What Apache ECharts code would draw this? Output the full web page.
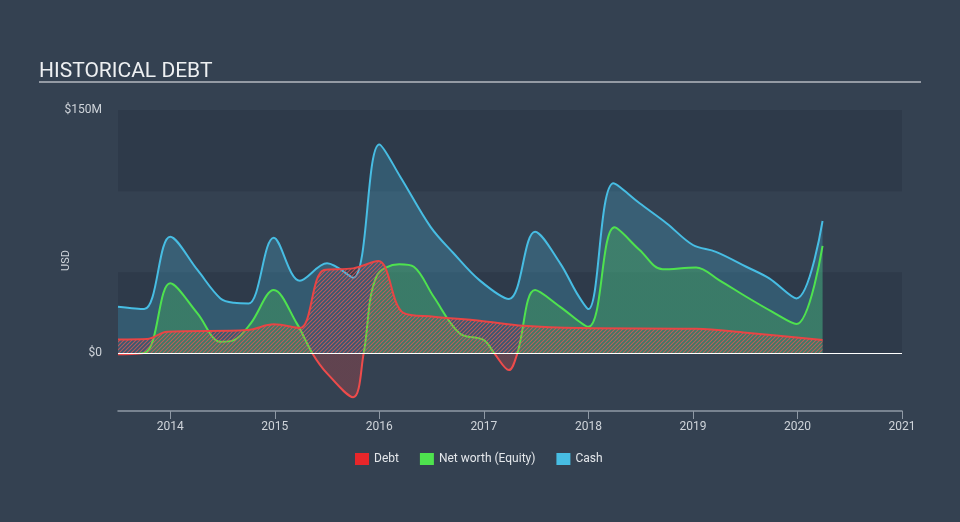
<!DOCTYPE html>
<html><head><meta charset="utf-8">
<script src="https://cdn.jsdelivr.net/npm/echarts@6/dist/echarts.min.js"></script>
<style>html,body{margin:0;padding:0;background:#344151;}#c{width:960px;height:522px;}</style>
</head><body><div id="c"></div>
<script>
const cashData = [[2013.5,28.7],[2013.75,27.3],[2014.0,71.9],[2014.26,51.4],[2014.48,33.9],[2014.61,31.2],[2014.75,30.8],[2014.99,71.3],[2015.24,44.8],[2015.5,55.5],[2015.75,46.6],[2016.0,128.8],[2016.2,108.9],[2016.49,78],[2016.71,61.7],[2016.96,45],[2017.24,33.5],[2017.49,75],[2017.73,55.5],[2017.89,37],[2018.0,27.3],[2018.24,104.8],[2018.49,92.5],[2018.75,80.1],[2019.0,66.8],[2019.22,62.6],[2019.51,53.4],[2019.73,46.2],[2019.99,33.9],[2020.24,81.6]];
const equityData = [[2013.5,-0.5],[2013.76,0.5],[2014.0,43.2],[2014.26,24.7],[2014.48,7.2],[2014.61,8.2],[2014.77,18.5],[2014.99,39],[2015.21,18.5],[2015.36,0],[2015.5,-12.3],[2015.75,-27],[2015.85,0],[2015.97,47.2],[2016.19,55],[2016.33,53.4],[2016.52,34.9],[2016.77,12.3],[2017.0,8.2],[2017.1,0],[2017.24,-10.3],[2017.32,0],[2017.49,39],[2017.73,28.7],[2018.0,16.4],[2018.25,77.7],[2018.49,63.7],[2018.71,51.8],[2019.03,53],[2019.25,45.2],[2019.51,34.9],[2019.76,25.6],[2019.99,18.1],[2020.24,66.3]];
const debtData = [[2013.5,8.6],[2013.78,8.9],[2013.97,13.3],[2014.74,14.4],[2014.99,17.9],[2015.24,15.6],[2015.47,51.4],[2015.75,52.4],[2015.99,56.9],[2016.23,25],[2016.52,22.6],[2016.96,20.1],[2017.38,17],[2017.92,15.6],[2019.03,15.2],[2019.51,12.7],[2020.24,8.2]];
const yearTicks = [2014,2015,2016,2017,2018,2019,2020,2021];
const yLabelValues = [0,150];
const bands = [[0,50],[100,150]];

const pc = document.createElement('canvas');
pc.width = 4; pc.height = 4;
const g = pc.getContext('2d');
g.strokeStyle = 'rgba(236,84,84,0.75)'; g.lineWidth = 1.1;
g.beginPath(); g.moveTo(-1,5); g.lineTo(5,-1); g.stroke();
g.beginPath(); g.moveTo(-1,1); g.lineTo(1,-1); g.stroke();
g.beginPath(); g.moveTo(3,5); g.lineTo(5,3); g.stroke();

const chart = echarts.init(document.getElementById('c'));
chart.setOption({
  backgroundColor: '#344151',
  animation: false,
  textStyle: {fontFamily: 'Roboto'},
  title: {text: 'HISTORICAL DEBT', left: 34, top: 56, textStyle: {color: '#eef0f2', fontSize: 21, fontWeight: 'normal', fontFamily: 'Roboto'}},
  graphic: [{type: 'line', shape: {x1: 39, y1: 82, x2: 921, y2: 82}, style: {stroke: '#b4b9c0', lineWidth: 1.5}}],
  grid: {left: 118, right: 58, top: 110, bottom: 111},
  legend: {
    bottom: 52, left: 350, itemWidth: 14, itemHeight: 12, itemGap: 21,
    textStyle: {color: '#e4e7eb', fontSize: 12},
    data: [{name: 'Debt', icon: 'rect'}, {name: 'Net worth (Equity)', icon: 'rect'}, {name: 'Cash', icon: 'rect'}]
  },
  xAxis: {
    type: 'value', min: 2013.5, max: 2021,
    axisLine: {onZero: false, lineStyle: {color: '#8f99a5', width: 1.5}},
    axisTick: {show: true, length: 8, customValues: yearTicks, lineStyle: {color: '#8f99a5'}},
    axisLabel: {customValues: yearTicks, color: '#cfd4da', fontSize: 12, margin: 10, formatter: v => String(v)},
    splitLine: {show: false}
  },
  yAxis: {
    type: 'value', min: -35.5, max: 150,
    name: 'USD', nameLocation: 'middle', nameGap: 46, nameRotate: 90, nameMoveOverlap: false,
    nameTextStyle: {color: '#cfd4da', fontSize: 11},
    axisLine: {show: false}, axisTick: {show: false},
    axisLabel: {customValues: yLabelValues, color: '#cfd4da', fontSize: 12, margin: 16,
      formatter: v => v === 0 ? '$0' : '$' + v + 'M'},
    splitLine: {show: false}
  },
  visualMap: {
    show: false, type: 'piecewise', seriesIndex: 2, dimension: 1,
    pieces: [{gte: -1000, lt: 0, color: '#ee4b4b'}, {gte: 0, lte: 1000, color: '#4ee24e'}]
  },
  series: [
    {type: 'line', name: 'bands', data: cashData, z: 0, silent: true, symbol: 'none', lineStyle: {opacity: 0},
      markArea: {silent: true, itemStyle: {color: '#2e3a4a'}, data: bands.map(b => [{yAxis: b[0]}, {yAxis: b[1]}])}},
    {type: 'line', name: 'Cash', data: cashData, smooth: 0.35, symbol: 'none', z: 2,
      itemStyle: {color: '#47bde3'}, lineStyle: {color: '#47bde3', width: 2},
      areaStyle: {color: 'rgba(71,189,227,0.25)', opacity: 1}},
    {type: 'line', name: 'Net worth (Equity)', data: equityData, smooth: 0.35, symbol: 'none', z: 3,
      itemStyle: {color: '#4ee24e'}, lineStyle: {width: 2},
      areaStyle: {opacity: 0.24}},
    {type: 'line', name: 'Debt', data: debtData, smooth: 0.35, symbol: 'none', z: 4,
      itemStyle: {color: '#e8262a'}, lineStyle: {color: '#e84545', width: 2},
      areaStyle: {color: {image: pc, repeat: 'repeat'}, opacity: 1}},
    {type: 'line', name: 'zero', data: cashData, z: 6, silent: true, symbol: 'none', lineStyle: {opacity: 0},
      markLine: {silent: true, symbol: 'none', label: {show: false}, lineStyle: {color: '#ffffff', width: 1.2, type: 'solid'}, data: [{yAxis: 0}]}}
  ]
});
</script></body></html>
